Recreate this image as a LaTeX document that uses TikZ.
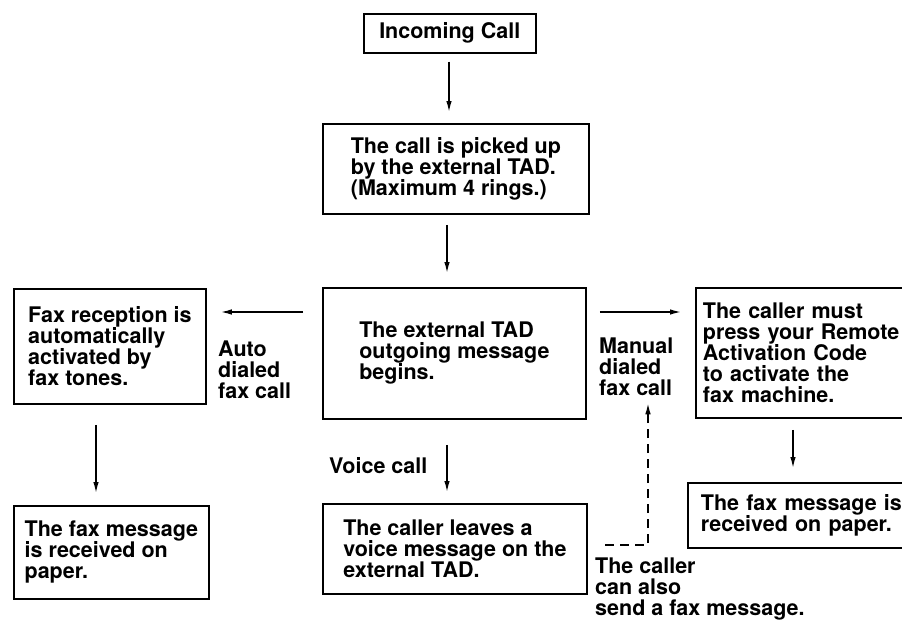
\documentclass[tikz,border=0pt]{standalone}
\usepackage{fontspec}
\setmainfont{TeX Gyre Heros}
\usetikzlibrary{arrows.meta,calc}
\begin{document}
\begin{tikzpicture}[x=1pt,y=-1pt,
  every node/.style={font=\fontsize{21.5}{21}\selectfont\bfseries},
  box/.style={draw, line width=1.8pt, inner sep=0pt, align=left, anchor=north west},
  wbox/.style={box, inner ysep=0pt},
  lbl/.style={inner sep=0pt, align=left, anchor=north west},
  arr/.style={line width=1.4pt, -{Latex[length=11pt,width=5.5pt]}},
  darr/.style={line width=1.4pt, dash pattern=on 9pt off 6pt, -{Latex[length=11pt,width=5.5pt]}},
]
\fill[white] (0,0) rectangle (902,621);
\useasboundingbox (0,0) rectangle (902,621);
\clip (0,0) rectangle (902,621);

\node[box, line width=1.5pt, minimum width=172pt, minimum height=39pt, align=center] (inc) at (363,13) {Incoming Call};
\node[box, minimum width=266pt, minimum height=90pt] (pick) at (322,123)
  {The call is picked up\\by the external TAD.\\(Maximum 4 rings.)};
\node[box, minimum width=263pt, minimum height=131pt] (ext) at (322,287)
  {The external TAD\\outgoing message\\begins.};
\node[box, minimum width=192pt, minimum height=115pt] (faxrec) at (13,288)
  {Fax reception is\\automatically\\activated by\\fax tones.};
\node[box, minimum width=264pt, minimum height=90pt] (voicebox) at (322,503)
  {The caller leaves a\\voice message on the\\external TAD.};
\node[box, minimum width=195pt, minimum height=93pt] (paperL) at (13,505)
  {The fax message\\is received on\\paper.};
\node[wbox, inner xsep=7pt, text width=230pt, minimum height=130pt] (remote) at (695,287)
  {The caller must\\press your Remote\\Activation Code\\to activate the\\fax machine.};
\node[wbox, inner xsep=13pt, text width=220pt, minimum height=65pt] (paperR) at (687,482)
  {The fax message is\\received on paper.};

\node[lbl] (auto) at (218,341) {Auto\\dialed\\fax call};
\node[lbl] (manual) at (599,338) {Manual\\dialed\\fax call};
\node[lbl] (voice) at (329,457) {Voice call};
\node[lbl] (also) at (595,558) {The caller\\can also\\send a fax message.};

\draw[arr] ($(inc.south west)+(86,8)$) -- ($(pick.north west)+(127,-11)$);
\draw[arr] ($(pick.south west)+(125,10)$) -- ($(ext.north west)+(125,-14)$);
\draw[arr] ($(ext.north west)+(-19,25)$) -- ($(faxrec.north east)+(14,24)$);
\draw[arr] ($(ext.north east)+(13,25)$) -- ($(remote.north west)+(-14,25)$);
\draw[arr] ($(faxrec.south west)+(83,20)$) -- ($(paperL.north west)+(83,-12)$);
\draw[arr] ($(ext.south west)+(125,25)$) -- ($(voicebox.north west)+(125,-11)$);
\draw[arr] ($(remote.south west)+(98,11)$) -- ($(paperR.north west)+(106,-14)$);
\coordinate (ds) at (605,545);
\draw[darr] (ds) -| ($(manual.south west)+(49,7)$);
\end{tikzpicture}
\end{document}
